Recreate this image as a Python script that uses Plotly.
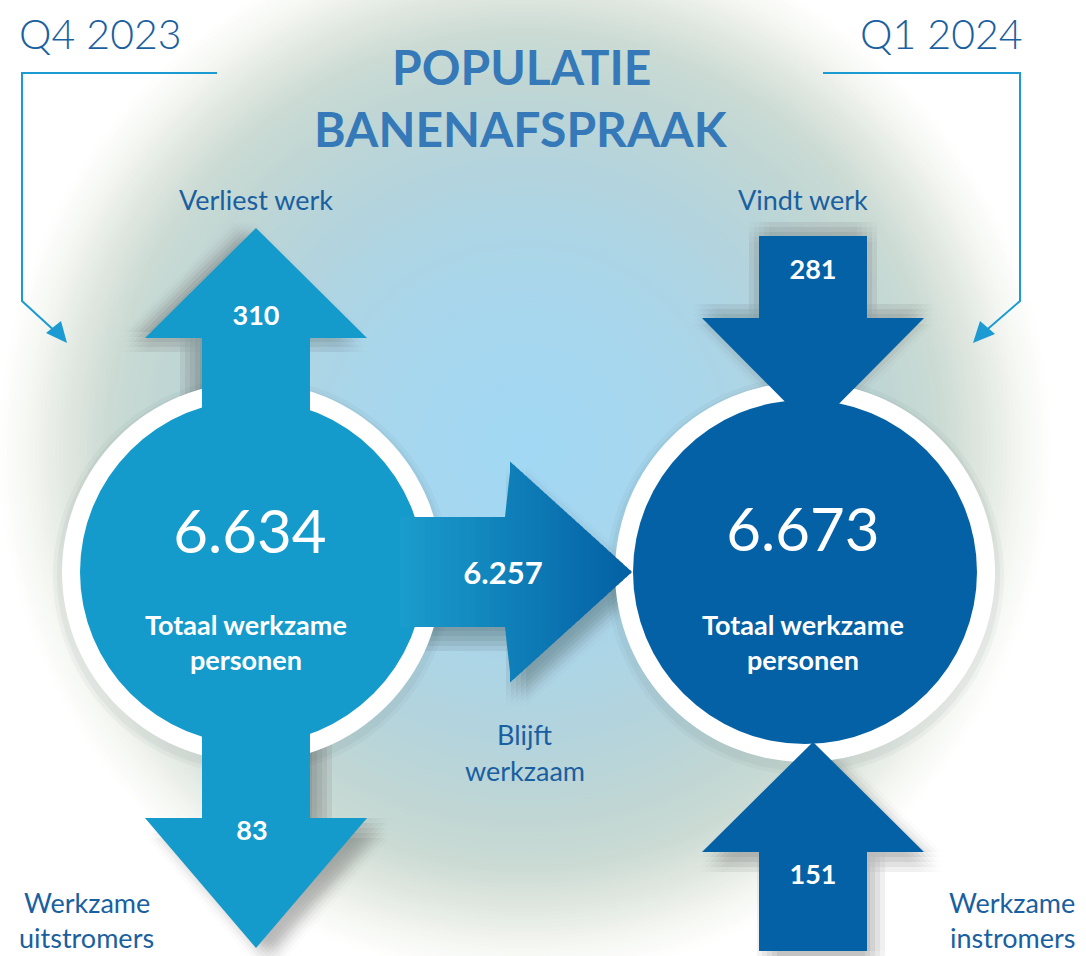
import plotly.graph_objects as go

# ── Data ──────────────────────────────────────────────
periods = ['Q4 2023', 'Q1 2024']
totals = [6634, 6673]                 # totaal werkzame personen
stays = 6257                          # blijft werkzaam
loses_work = 310                      # verliest werk
outflow = 83                          # werkzame uitstromers
finds_work = 281                      # vindt werk
inflow = 151                          # werkzame instromers

title_lines = ['POPULATIE', 'BANENAFSPRAAK']
flow_labels = ['Verliest werk', 'Vindt werk']
stay_label = ['Blijft', 'werkzaam']
out_label = ['Werkzame', 'uitstromers']
in_label = ['Werkzame', 'instromers']
circle_label = 'Totaal werkzame<br>personen'

# ── Style ─────────────────────────────────────────────
W, H = 1086, 956
LEFT_BLUE = '#159bcb'
RIGHT_BLUE = '#0461a5'
TEXT_BLUE = '#1a5f9f'
TITLE_BLUE = '#3579b8'
LINE_BLUE = '#1b9bd1'
FONT = 'Lato, "Open Sans", sans-serif'

LC = (252, 572)      # left circle centre
RC = (805, 572)      # right circle centre
R_IN, R_RING = 172, 190


def nl(v):
    return f'{v:,}'.replace(',', '.')


def hex2rgb(h):
    h = h.lstrip('#')
    return tuple(int(h[i:i + 2], 16) for i in (0, 2, 4))


def mix(c1, c2, t):
    a, b = hex2rgb(c1), hex2rgb(c2)
    return 'rgb(%d,%d,%d)' % tuple(round(a[i] + (b[i] - a[i]) * t) for i in range(3))


def path(pts):
    return 'M ' + ' L '.join(f'{x},{y}' for x, y in pts) + ' Z'


shapes = []

# ── Background radial glow ────────────────────────────
glow_center = (525, 450)
stops = [(0, '#a2d8f4'), (120, '#a6d7ef'), (220, '#acd5e6'), (300, '#b5d4dc'),
         (370, '#c0d6d4'), (420, '#cbdbd4'), (460, '#e0e7e0'), (500, '#f5f7f3'),
         (530, '#ffffff')]


def glow_color(r):
    for (r0, c0), (r1, c1) in zip(stops[:-1], stops[1:]):
        if r0 <= r <= r1:
            return mix(c0, c1, (r - r0) / (r1 - r0))
    return '#ffffff'


r = 530
while r > 0:
    shapes.append(dict(type='circle', xref='x', yref='y', layer='below',
                       x0=glow_center[0] - r, x1=glow_center[0] + r,
                       y0=glow_center[1] - r, y1=glow_center[1] + r,
                       fillcolor=glow_color(r), line=dict(width=0)))
    r -= 4


# ── Arrow geometry ────────────────────────────────────
def v_arrow(cx, shaft_from, head_base, tip, sw=54, hw=111):
    return [(cx - sw, shaft_from), (cx - sw, head_base), (cx - hw, head_base),
            (cx, tip), (cx + hw, head_base), (cx + sw, head_base), (cx + sw, shaft_from)]


up_left = v_arrow(256, 520, 338, 228)
down_left = v_arrow(256, 640, 818, 948)
down_right = v_arrow(813, 236, 318, 430)
up_right = v_arrow(813, 951, 852, 742)

H_Y, H_SW, H_HW = 572, 55, 110.5
H_X0, H_BASE, H_TIP = 400, 510, 632
h_arrow = [(H_X0, H_Y - H_SW), (H_BASE, H_Y - H_SW), (H_BASE, H_Y - H_HW), (H_TIP, H_Y),
           (H_BASE, H_Y + H_HW), (H_BASE, H_Y + H_SW), (H_X0, H_Y + H_SW)]


def shadow(poly, dx, dy, alpha=0.014):
    offs = (-10, -5, 0, 5, 10)
    for ox in offs:
        for oy in offs:
            pts = [(x + dx + ox, y + dy + oy) for x, y in poly]
            shapes.append(dict(type='path', path=path(pts), layer='below',
                               fillcolor=f'rgba(40,60,70,{alpha})', line=dict(width=0)))


# soft shadows
shadow(up_left, -12, 4)
shadow(down_left, 12, 10)
shadow(h_arrow, 6, 14)
shadow(down_right, 0, -4)
shadow(up_right, 8, 10)
for c in (LC, RC):
    for k, a in ((9, 0.04), (5, 0.05)):
        rr = R_RING + k
        shapes.append(dict(type='circle', layer='below', x0=c[0] - rr, x1=c[0] + rr,
                           y0=c[1] - rr + 4, y1=c[1] + rr + 4,
                           fillcolor=f'rgba(60,80,80,{a})', line=dict(width=0)))

# white rings + circles
for c, col in ((LC, LEFT_BLUE), (RC, RIGHT_BLUE)):
    shapes.append(dict(type='circle', layer='below', x0=c[0] - R_RING, x1=c[0] + R_RING,
                       y0=c[1] - R_RING, y1=c[1] + R_RING,
                       fillcolor='white', line=dict(width=0)))
    shapes.append(dict(type='circle', layer='below', x0=c[0] - R_IN, x1=c[0] + R_IN,
                       y0=c[1] - R_IN, y1=c[1] + R_IN,
                       fillcolor=col, line=dict(width=0)))

# vertical arrows
for poly, col in ((up_left, LEFT_BLUE), (down_left, LEFT_BLUE),
                  (down_right, RIGHT_BLUE), (up_right, RIGHT_BLUE)):
    shapes.append(dict(type='path', path=path(poly), layer='below',
                       fillcolor=col, line=dict(width=0)))


# horizontal arrow with a left→right colour gradient, drawn in strips
def h_half(x):
    if x <= H_BASE:
        return H_SW
    return H_HW * (H_TIP - x) / (H_TIP - H_BASE)


edges = list(range(H_X0, H_BASE, 5)) + [H_BASE] + list(range(H_BASE + 4, H_TIP, 4)) + [H_TIP]
for xa, xb in zip(edges[:-1], edges[1:]):
    xb2 = min(xb + 1, H_TIP)
    t = (xa - H_X0) / (H_TIP - H_X0)
    col = mix('#1a9ccc', '#035fa3', t)
    ha = h_half(xa) if xa != H_BASE else H_HW
    hb = h_half(xb2)
    pts = [(xa, H_Y - ha), (xb2, H_Y - hb), (xb2, H_Y + hb), (xa, H_Y + ha)]
    shapes.append(dict(type='path', path=path(pts), layer='below',
                       fillcolor=col, line=dict(width=0)))

# bracket lines with small arrowheads
shapes.append(dict(type='path', path='M 217,73 L 22,73 L 22,301 L 58,334', layer='above',
                   line=dict(color=LINE_BLUE, width=2)))
shapes.append(dict(type='path', path=path([(67, 343), (46, 333), (61, 321)]), layer='above',
                   fillcolor=LINE_BLUE, line=dict(width=0)))
shapes.append(dict(type='path', path='M 823,73 L 1020,73 L 1020,301 L 982,334', layer='above',
                   line=dict(color=LINE_BLUE, width=2)))
shapes.append(dict(type='path', path=path([(973, 343), (980, 321), (995, 334)]), layer='above',
                   fillcolor=LINE_BLUE, line=dict(width=0)))

fig = go.Figure()

# big totals inside the circles
fig.add_trace(go.Scatter(
    x=[LC[0] - 2, RC[0] - 2], y=[538, 536],
    mode='text', text=[nl(v) for v in totals],
    textfont=dict(family=FONT, size=60, color='white'),
    hoverinfo='skip'
))
# flow values on the arrows
fig.add_trace(go.Scatter(
    x=[256, 252, 813, 813, 503],
    y=[318, 833, 272, 877, 576],
    mode='text',
    text=[nl(loses_work), nl(outflow), nl(finds_work), nl(inflow), nl(stays)],
    textfont=dict(family=FONT, size=[27, 27, 27, 27, 31], color='white', weight='bold'),
    hoverinfo='skip'
))

annotations = []


def label(x, y, text, size, color=TEXT_BLUE, weight='normal'):
    annotations.append(dict(x=x, y=y, xref='x', yref='y', text=text, showarrow=False,
                            xanchor='center', yanchor='middle', align='center',
                            font=dict(family=FONT, size=size, color=color, weight=weight)))


label(100, 33, periods[0], 41, weight=300)
label(941, 33, periods[1], 41, weight=300)
label(521, 66, title_lines[0], 48, color=TITLE_BLUE, weight='bold')
label(521, 128, title_lines[1], 48, color=TITLE_BLUE, weight='bold')
label(256, 199, flow_labels[0], 27)
label(803, 199, flow_labels[1], 27)
label(525, 734, stay_label[0], 27)
label(525, 770, stay_label[1], 27)
label(87, 902, out_label[0], 27)
label(86, 937, out_label[1], 27)
label(1012, 902, in_label[0], 27)
label(1012, 937, in_label[1], 27)
label(LC[0] - 6, 642, circle_label, 27, color='white', weight='bold')
label(RC[0] - 2, 642, circle_label, 27, color='white', weight='bold')

fig.update_layout(
    width=W, height=H,
    margin=dict(l=0, r=0, t=0, b=0),
    paper_bgcolor='white', plot_bgcolor='white',
    showlegend=False,
    xaxis=dict(range=[0, W], visible=False, fixedrange=True),
    yaxis=dict(range=[H, 0], visible=False, fixedrange=True),
    shapes=shapes,
    annotations=annotations
)

fig.write_html('out.html', config={'displayModeBar': False},
               post_script="document.body.style.margin='0';document.body.style.overflow='hidden';")
